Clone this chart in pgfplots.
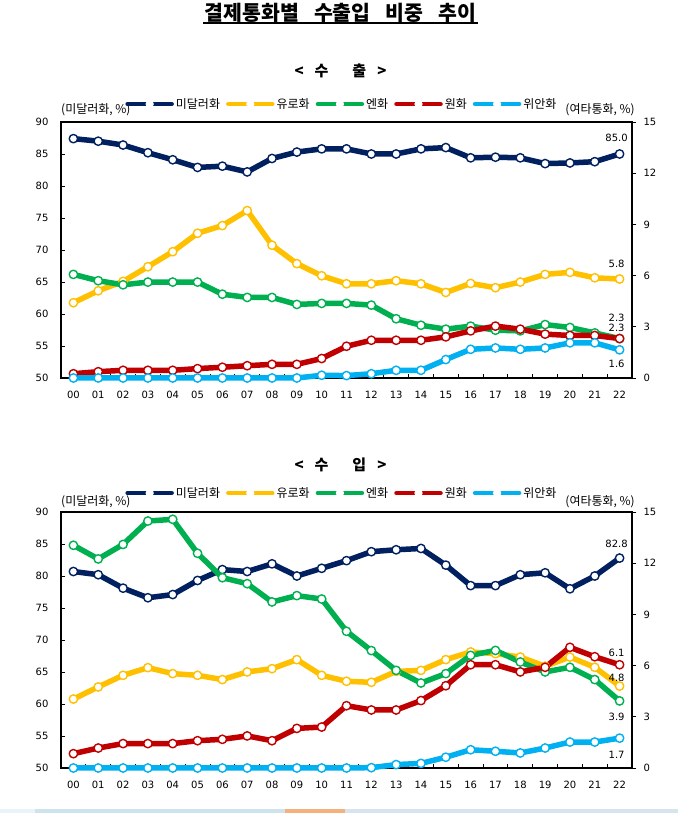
\documentclass[border=0pt]{standalone}
\usepackage{fontspec}
\setmainfont{Noto Sans CJK KR}
\newfontfamily\numfont{DejaVu Sans}
\usepackage{pgfplots}
\usepackage{pgfplotstable}
\pgfplotsset{compat=1.18}

\definecolor{cusd}{RGB}{0,32,96}
\definecolor{ceur}{RGB}{255,192,0}
\definecolor{cjpy}{RGB}{0,176,80}
\definecolor{ckrw}{RGB}{192,0,0}
\definecolor{ccny}{RGB}{0,176,240}

% export shares (usd: left axis, others: right axis)
\pgfplotstableread{
x usd eur jpy krw cny
0  87.4 4.41 6.07 0.25 0
1  87.0 5.11 5.70 0.37 0
2  86.4 5.66 5.46 0.45 0
3  85.2 6.52 5.62 0.45 0
4  84.1 7.40 5.62 0.45 0
5  82.9 8.48 5.62 0.55 0
6  83.1 8.93 4.91 0.63 0
7  82.2 9.81 4.72 0.72 0
8  84.3 7.78 4.72 0.80 0
9  85.3 6.70 4.31 0.80 0
10 85.8 5.99 4.37 1.14 0.16
11 85.8 5.52 4.37 1.86 0.14
12 85.0 5.52 4.27 2.21 0.25
13 85.0 5.70 3.47 2.21 0.45
14 85.8 5.52 3.09 2.21 0.45
15 86.0 5.01 2.86 2.41 1.08
16 84.4 5.54 3.04 2.76 1.68
17 84.5 5.29 2.80 3.04 1.76
18 84.4 5.62 2.76 2.86 1.68
19 83.5 6.07 3.13 2.57 1.76
20 83.6 6.19 2.96 2.49 2.06
21 83.8 5.87 2.64 2.49 2.06
22 85.0 5.80 2.31 2.31 1.65
}\exporttab

% import shares
\pgfplotstableread{
x usd eur jpy krw cny
0  80.7 4.04 13.05 0.84 0
1  80.2 4.75 12.25 1.17 0
2  78.1 5.43 13.10 1.43 0
3  76.6 5.88 14.47 1.43 0
4  77.1 5.53 14.57 1.43 0
5  79.3 5.43 12.58 1.60 0
6  81.0 5.18 11.15 1.68 0
7  80.7 5.63 10.80 1.88 0
8  81.9 5.82 9.73 1.60 0
9  80.0 6.35 10.10 2.32 0
10 81.2 5.43 9.90 2.40 0
11 82.4 5.08 8.01 3.65 0
12 83.8 5.02 6.88 3.40 0.02
13 84.1 5.66 5.72 3.40 0.20
14 84.3 5.72 4.98 3.95 0.27
15 81.7 6.35 5.53 4.82 0.63
16 78.5 6.80 6.60 6.05 1.07
17 78.5 6.70 6.89 6.05 0.98
18 80.2 6.50 6.21 5.63 0.88
19 80.5 5.96 5.63 5.90 1.17
20 78.0 6.50 5.90 7.07 1.52
21 80.0 5.90 5.18 6.52 1.52
22 82.8 4.80 3.93 6.05 1.75
}\importtab

\tikzset{
  dlab/.style={font=\numfont\fontsize{10}{12}\selectfont, inner sep=0pt, xshift=-3pt},
  unitlab/.style={font=\fontsize{12}{14}\selectfont, inner sep=0pt},
}

\pgfplotsset{
  cbase/.style={
    scale only axis, width=571pt, height=256pt,
    xmin=-0.5, xmax=22.5, anchor=south west, clip=false,
    /pgf/number format/assume math mode=true,
    tick label style={font=\numfont\fontsize{10}{12}\selectfont},
    axis line style={line width=1.3pt},
  },
  ser/.style={color=#1, line width=5.5pt, line join=round, mark=*, mark size=4.2pt,
    mark options={fill=white, draw=#1, line width=1.4pt}},
  leftax/.style={cbase, ymin=50, ymax=90, ytick={50,55,...,90},
    xtick={0.5,1.5,...,21.5}, xticklabel=\empty,
    extra x ticks={0,1,...,22},
    extra x tick labels={00,01,02,03,04,05,06,07,08,09,10,11,12,13,14,15,16,17,18,19,20,21,22},
    extra x tick style={major tick length=0pt},
    xtick pos=bottom, ytick pos=left, tick align=inside,
    major tick length=3.5pt, tick style={line width=0.9pt, black},
    yticklabel style={xshift=-9pt}, xticklabel style={yshift=-10pt}},
  rightax/.style={cbase, ymin=0, ymax=15, ytick={0,3,...,15},
    hide x axis, axis y line*=right, tick align=outside,
    major tick length=4pt, tick style={line width=0.9pt, black},
    yticklabel style={xshift=4pt},
    legend columns=5,
    legend style={draw=none, fill=none, at={(0.492,1.07)}, anchor=center,
      font=\fontsize{12}{14}\selectfont,
      /tikz/every even column/.append style={column sep=4pt},
      nodes={inner sep=2pt}},
    legend image code/.code={\draw[##1, mark=none, line width=4.5pt, line cap=round] (0pt,0pt) -- (44pt,0pt);
      \fill[white] (22pt,0pt) circle (1.4pt);}},
}

\begin{document}
\begin{tikzpicture}[x=1pt,y=1pt]
\useasboundingbox (0,0) rectangle (678,813);

% titles
\node[font=\bfseries\fontsize{20.5}{24}\selectfont, inner sep=0pt] at (340.5,800.5)
  {결제통화별\hspace{15pt}수출입\hspace{15pt}비중\hspace{15pt}추이};
\draw[line width=1.5pt] (203,790) -- (478,790);
\node[font=\bfseries\fontsize{15}{18}\selectfont, inner sep=0pt] at (340.5,742)
  {<\hspace{11pt}수\hspace{24pt}출\hspace{11pt}>};
\node[font=\bfseries\fontsize{15}{18}\selectfont, inner sep=0pt] at (340.5,348)
  {<\hspace{11pt}수\hspace{24pt}입\hspace{11pt}>};

% ===== exports =====
\begin{axis}[leftax, at={(61pt,435pt)}]
  \addplot[ser=cusd] table[x=x,y=usd]{\exporttab};
  \node[dlab, yshift=16pt] at (axis cs:22,85.0) {85.0};
  \node[unitlab, anchor=west, yshift=12pt] at (rel axis cs:0,1) {(미달러화, \%)};
  \node[unitlab, anchor=east, xshift=3pt, yshift=12pt] at (rel axis cs:1,1) {(여타통화, \%)};
\end{axis}
\begin{axis}[rightax, at={(61pt,435pt)}]
  \addlegendimage{ser=cusd}\addlegendentry{미달러화}
  \addplot[ser=ceur] table[x=x,y=eur]{\exporttab};\addlegendentry{유로화}
  \addplot[ser=cjpy] table[x=x,y=jpy]{\exporttab};\addlegendentry{엔화}
  \addplot[ser=ckrw] table[x=x,y=krw]{\exporttab};\addlegendentry{원화}
  \addplot[ser=ccny] table[x=x,y=cny]{\exporttab};\addlegendentry{위안화}
  \node[dlab, yshift=15pt] at (axis cs:22,5.8) {5.8};
  \node[dlab, yshift=21pt] at (axis cs:22,2.31) {2.3};
  \node[dlab, yshift=11pt] at (axis cs:22,2.31) {2.3};
  \node[dlab, yshift=-14pt] at (axis cs:22,1.65) {1.6};
\end{axis}

% ===== imports =====
\begin{axis}[leftax, at={(61pt,45pt)}]
  \addplot[ser=cusd] table[x=x,y=usd]{\importtab};
  \node[dlab, yshift=14pt] at (axis cs:22,82.8) {82.8};
  \node[unitlab, anchor=west, yshift=10pt] at (rel axis cs:0,1) {(미달러화, \%)};
  \node[unitlab, anchor=east, xshift=3pt, yshift=10pt] at (rel axis cs:1,1) {(여타통화, \%)};
\end{axis}
\begin{axis}[rightax, at={(61pt,45pt)}, legend style={at={(0.492,1.074)}}]
  \addlegendimage{ser=cusd}\addlegendentry{미달러화}
  \addplot[ser=ceur] table[x=x,y=eur]{\importtab};\addlegendentry{유로화}
  \addplot[ser=cjpy] table[x=x,y=jpy]{\importtab};\addlegendentry{엔화}
  \addplot[ser=ckrw] table[x=x,y=krw]{\importtab};\addlegendentry{원화}
  \addplot[ser=ccny] table[x=x,y=cny]{\importtab};\addlegendentry{위안화}
  \node[dlab, yshift=12pt] at (axis cs:22,6.05) {6.1};
  \node[dlab, yshift=8pt] at (axis cs:22,4.80) {4.8};
  \node[dlab, yshift=-16pt] at (axis cs:22,3.93) {3.9};
  \node[dlab, yshift=-17pt] at (axis cs:22,1.75) {1.7};
\end{axis}

% page strip at bottom
\fill[color={rgb,255:red,234;green,243;blue,248}] (0,0) rectangle (35,4);
\fill[color={rgb,255:red,205;green,228;blue,238}] (35,0) rectangle (285,4);
\fill[color={rgb,255:red,244;green,177;blue,125}] (285,0) rectangle (345,4);
\fill[color={rgb,255:red,214;green,228;blue,238}] (345,0) rectangle (678,4);
\end{tikzpicture}
\end{document}
